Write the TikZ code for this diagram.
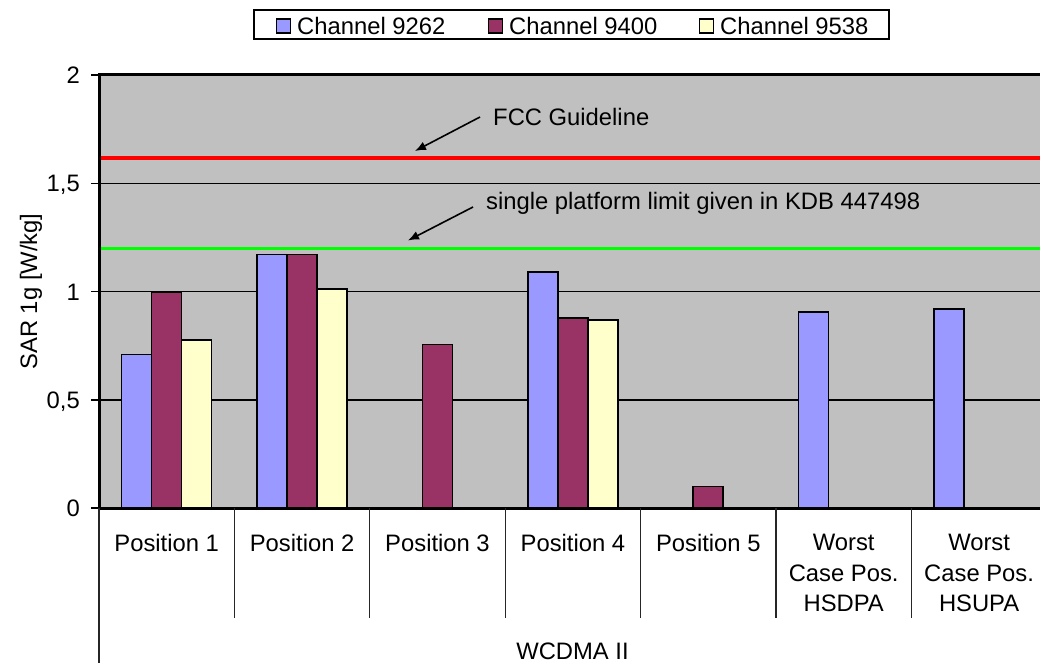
\documentclass[tikz,border=0pt]{standalone}
\usepackage{fontspec}
\setmainfont{Liberation Sans}
\usetikzlibrary{arrows.meta}
\definecolor{plotgray}{HTML}{C0C0C0}
\definecolor{serA}{HTML}{9999FF}
\definecolor{serB}{HTML}{993366}
\definecolor{serC}{HTML}{FFFFCC}
\definecolor{fccred}{HTML}{FF0000}
\definecolor{limgreen}{HTML}{00FF00}
\begin{document}
\begin{tikzpicture}[x=1pt,y=-1pt,
  lbl/.style={font=\fontsize{23.8pt}{30pt}\selectfont, inner sep=0pt, text=black},
  barbox/.style={draw=black, line width=1.6pt},
  gridline/.style={black, line width=1.1pt},
  axisline/.style={black, line width=3pt},
  divline/.style={black!85, line width=1.1pt},
  callout/.style={black, line width=1.6pt, -{Latex[length=11pt,width=9pt]}},
  legsq/.style={draw=black, line width=1.2pt, minimum size=14pt, inner sep=0pt}
]
\useasboundingbox (0,0) rectangle (1040,663);
% plot area
\fill[plotgray] (99,75) rectangle (1040,508);
\foreach \yy in {183.3,291.6,400} \draw[gridline] (99,\yy) -- (1040,\yy);
% limit lines
\draw[fccred, line width=4pt] (99,158) -- (1040,158);
\draw[limgreen, line width=3pt] (99,248.5) -- (1040,248.5);
% bars
\foreach \c/\i/\v/\col in {0/0/0.708/serA,0/1/0.996/serB,0/2/0.776/serC,
  1/0/1.17/serA,1/1/1.17/serB,1/2/1.01/serC,
  2/1/0.755/serB,
  3/0/1.09/serA,3/1/0.876/serB,3/2/0.867/serC,
  4/1/0.10/serB,
  5/0/0.905/serA,
  6/0/0.92/serA}{
  \pgfmathsetmacro{\xa}{99+\c*135.4+22.5+\i*30}
  \pgfmathsetmacro{\ya}{508-\v*216.6}
  \draw[barbox, fill=\col] (\xa,508) rectangle (\xa+30,\ya);
}
% axes
\draw[axisline] (99,75) -- (1040,75);
\draw[axisline] (99,73.5) -- (99,509.5);
\draw[axisline] (97.5,508) -- (1040,508);
% ticks and tick labels
\foreach \yy/\t/\n in {75/2/ta,183.3/{1,5}/tb,291.6/1/tc,400/{0,5}/td,508/0/te}{
  \draw[black, line width=1.1pt] (91,\yy) -- (99,\yy);
  \node[lbl, anchor=base east] (\n) at (80,\yy+8.5) {\t};
}
% y axis title
\node[lbl, rotate=90, anchor=base] (ytitle) at (37,291.5) {SAR 1g [W/kg]};
% category dividers
\draw[divline] (99,508) -- (99,663);
\foreach \k in {1,...,6}{
  \pgfmathsetmacro{\xd}{99+\k*135.4}
  \draw[divline] (\xd,508) -- (\xd,618);
}
% category labels
\foreach \k/\t in {0/Position 1,1/Position 2,2/Position 3,3/Position 4,4/Position 5}{
  \pgfmathsetmacro{\xc}{99+(\k+0.5)*135.4}
  \node[lbl, anchor=base] (cat\k) at (\xc,551.5) {\t};
}
\foreach \k/\t in {5/HSDPA,6/HSUPA}{
  \pgfmathsetmacro{\xc}{99+(\k+0.5)*135.4}
  \node[lbl, anchor=base] (cat\k a) at (\xc,550.5) {Worst};
  \node[lbl, anchor=base] (cat\k b) at (\xc,581) {Case Pos.};
  \node[lbl, anchor=base] (cat\k c) at (\xc,611) {\t};
}
\node[lbl, anchor=base] (group) at (572.5,659.5) {WCDMA II};
% callouts
\node[lbl, anchor=base west] (fcc) at (493,125.5) {FCC Guideline};
\coordinate (fccfrom) at (480,117);
\coordinate (fccto) at (415,151);
\draw[callout] (fccfrom) -- (fccto);
\node[lbl, anchor=base west] (spl) at (486,209) {single platform limit given in KDB 447498};
\coordinate (splfrom) at (473,207);
\coordinate (splto) at (408,240.5);
\draw[callout] (splfrom) -- (splto);
% legend
\draw[black, line width=1.1pt, fill=white] (254,10) rectangle (889,39) node[pos=0, inner sep=0pt] (legbox) {};
\node[legsq, fill=serA, anchor=west] (sqa) at (276,26) {};
\node[lbl, anchor=base west] (lega) at (297,35) {Channel 9262};
\node[legsq, fill=serB, anchor=west] (sqb) at (488,26) {};
\node[lbl, anchor=base west] (legb) at (509,35) {Channel 9400};
\node[legsq, fill=serC, anchor=west] (sqc) at (699,26) {};
\node[lbl, anchor=base west] (legc) at (720,35) {Channel 9538};
\end{tikzpicture}
\end{document}
